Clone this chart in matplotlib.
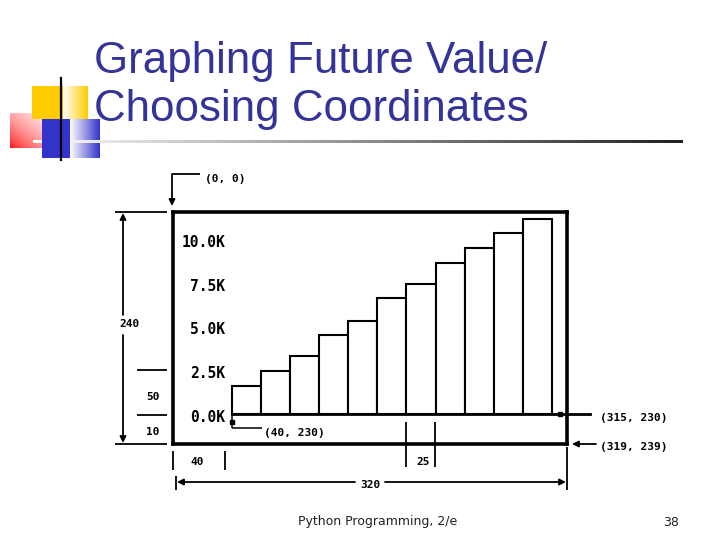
import numpy as np
import matplotlib.pyplot as plt
from matplotlib.patches import Rectangle
from matplotlib.transforms import blended_transform_factory

# data
years = list(range(11))
values = [1630, 2490, 3330, 4510, 5350, 6630, 7460, 8660, 9520, 10340, 11180]
ytick_vals = [0, 2500, 5000, 7500, 10000]
ytick_labels = ['0.0K', '2.5K', '5.0K', '7.5K', '10.0K']
title_lines = ['Graphing Future Value/', 'Choosing Coordinates']
footer = 'Python Programming, 2/e'
page = '38'

W, H = 720, 540
fig = plt.figure(figsize=(7.2, 5.4), dpi=100)
bg = fig.add_axes([0, 0, 1, 1])
bg.axis('off')

TITLE_C = '#333399'
MONO = dict(family='DejaVu Sans Mono', weight='bold', color='k')

def hgrad(c_left, c_right, n=128):
  #one-row horizontal colour ramp
  g = np.linspace(0, 1, n)[:, None]
  return ((1-g)*np.array(c_left) + g*np.array(c_right))[None, :, :]

# --- decorative squares top left
bg.add_patch(Rectangle((32, 86), 31, 33, color='#ffcc00', lw=0))
bg.imshow(hgrad([1, 1, 1], [1.0, 0.8, 0.0]), extent=(63, 88, 119, 86),
          aspect='auto', origin='upper', interpolation='bilinear')

bg.add_patch(Rectangle((42, 119), 28, 39, color='#3333cc', lw=0))
bg.imshow(hgrad([1, 1, 1], [0.2, 0.2, 0.8]), extent=(70, 100, 158, 119),
          aspect='auto', origin='upper', interpolation='bilinear')

gx, gy = np.meshgrid(np.linspace(0, 1, 64), np.linspace(0, 1, 64))
t = np.clip((gx + (1 - gy)) / 2, 0, 1) ** 0.6
img = (1 - t)[..., None] * np.array([1.0, 0.0, 0.0]) + t[..., None] * np.ones(3)
bg.imshow(img, extent=(10, 55, 148, 113), aspect='auto', origin='upper', interpolation='bilinear')

bg.plot([61, 61], [78, 160], color='k', lw=1.6)

# title rule, white -> near black
bg.imshow(hgrad([1, 1, 1], [0.13, 0.13, 0.13], 256), extent=(33, 683, 143, 140),
          aspect='auto', origin='upper', interpolation='bilinear')

# title
for i, line in enumerate(title_lines):
  bg.text(94, 72.7 + 48.5*i, line, fontsize=31.6, family='Liberation Sans',
          color=TITLE_C, va='baseline', ha='left')

# footer
bg.text(298, 522, footer, fontsize=9, family='DejaVu Sans', color='#222222', va='center')
bg.text(663, 522, page, fontsize=9, family='DejaVu Sans', color='#222222', va='center')

# --- graphics window (chart) -------------------------------------------
L, R, T, B = 173, 567, 212, 444
x0, px_year = 231.7, 29.12      # pixel of year 0, pixels per year
y0, px_dollar = 414.3, 0.0175   # pixel of $0, pixels per dollar
ch = fig.add_axes([L/W, 1-B/H, (R-L)/W, (B-T)/H])
ch.set_facecolor('none')
ch.set_xlim((L-x0)/px_year, (R-x0)/px_year)
ch.set_ylim((y0-B)/px_dollar, (y0-T)/px_dollar)
ch.set_xticks([]); ch.set_yticks([])
for s in ch.spines.values():
  s.set_linewidth(2.6)

ch.bar(years, values, width=1, align='edge', facecolor='white',
       edgecolor='black', linewidth=1.5, zorder=2)
ch.plot([0, (590-x0)/px_year], [0, 0], color='k', lw=2.0, clip_on=False, zorder=3)
ch.plot([(560-x0)/px_year], [0], marker='s', ms=3.5, color='k', clip_on=False, zorder=4)

trans = blended_transform_factory(ch.transAxes, ch.transData)
for v, lab in zip(ytick_vals, ytick_labels):
  ch.annotate(lab, xy=(0.133, v), xycoords=trans, xytext=(0, -2.2),
              textcoords='offset points', ha='right', va='center', fontsize=10.5, **MONO)

# --- dimension annotations (pixel space) --------------------------------
def seg(xa, ya, xb, yb, lw=1.3):
  bg.plot([xa, xb], [ya, yb], color='k', lw=lw, solid_capstyle='butt')

def arrow(tail, tip):
  bg.annotate('', xy=tip, xytext=tail,
              arrowprops=dict(arrowstyle='-|>', color='k', lw=1.3,
                              mutation_scale=9, shrinkA=0, shrinkB=0))

small = dict(fontsize=8, va='center', **MONO)

# (0, 0)
seg(172, 174, 200, 174)
arrow((172, 174), (172, 206))
bg.text(205, 179, '(0, 0)', ha='left', **small)

# 240
seg(115, 212, 167, 212)
seg(115, 444, 167, 444)
arrow((123, 315), (123, 213))
arrow((123, 335), (123, 443))
bg.text(130, 324, '240', ha='center', **small)

# 50 / 10
seg(137, 370, 167, 370)
seg(137, 415, 167, 415)
bg.text(153, 397, '50', ha='center', **small)
bg.text(153, 432, '10', ha='center', **small)

# 40
seg(173, 451, 173, 470)
seg(225, 451, 225, 470)
bg.text(197, 462, '40', ha='center', **small)

# 25
seg(405.7, 422, 405.7, 467)
seg(435.3, 422, 435.3, 467)
bg.text(423, 462, '25', ha='center', **small)

# 320
seg(176, 476, 176, 490)
seg(567, 447, 567, 490)
arrow((355, 482), (177, 482))
arrow((385, 482), (566, 482))
bg.text(370, 485, '320', ha='center', **small)

# (40, 230)
seg(231.7, 414, 231.7, 428, lw=1.1)
seg(231.7, 428, 262, 428, lw=1.1)
bg.plot([232], [422], marker='s', ms=3, color='k')
bg.text(264, 433, '(40, 230)', ha='left', **small)

# (315, 230)
bg.text(600, 418, '(315, 230)', ha='left', **small)

# (319, 239)
arrow((596, 444), (572, 444))
bg.text(600, 447, '(319, 239)', ha='left', **small)

bg.set_xlim(0, W)
bg.set_ylim(H, 0)

fig.savefig('out.png', dpi=100, facecolor='white')
